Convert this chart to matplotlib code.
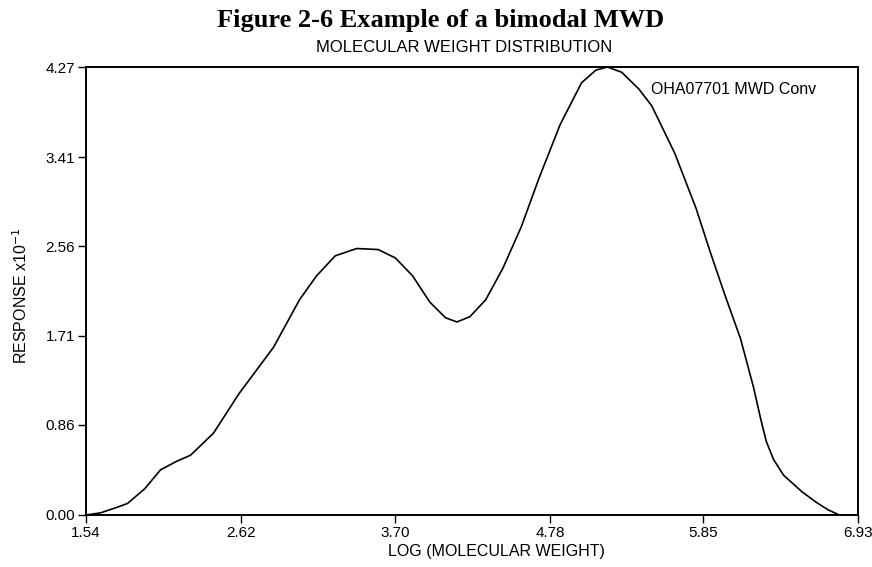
import matplotlib
matplotlib.use("Agg")
import matplotlib.pyplot as plt

# log molecular weight vs response
log_mw = [1.54, 1.64, 1.75, 1.83, 1.95, 2.06, 2.17, 2.27, 2.43, 2.61, 2.85,
          3.03, 3.15, 3.28, 3.43, 3.58, 3.70, 3.82, 3.94, 4.05, 4.13, 4.22,
          4.33, 4.45, 4.58, 4.70, 4.85, 5.00, 5.10, 5.18, 5.28, 5.40, 5.49,
          5.65, 5.80, 5.90, 6.00, 6.11, 6.20, 6.25, 6.29, 6.34, 6.41, 6.54,
          6.64, 6.72, 6.80, 6.93]
response = [0.00, 0.02, 0.07, 0.11, 0.25, 0.43, 0.51, 0.57, 0.78, 1.16, 1.60,
            2.05, 2.28, 2.47, 2.54, 2.53, 2.45, 2.28, 2.03, 1.88, 1.84, 1.89,
            2.05, 2.35, 2.75, 3.20, 3.72, 4.12, 4.24, 4.27, 4.22, 4.06, 3.90,
            3.45, 2.92, 2.50, 2.10, 1.68, 1.22, 0.92, 0.70, 0.53, 0.38, 0.22,
            0.12, 0.05, 0.00, 0.00]

x_ticks = [1.54, 2.62, 3.70, 4.78, 5.85, 6.93]
y_ticks = [0.00, 0.86, 1.71, 2.56, 3.41, 4.27]

sans = ['Liberation Sans Narrow', 'Liberation Sans', 'DejaVu Sans']

fig = plt.figure(figsize=(8.72, 5.67), dpi=100)
ax = fig.add_axes([86 / 872, 52 / 567, 772 / 872, 448 / 567])

ax.plot(log_mw, response, color='black', linewidth=1.2)

ax.set_xlim(x_ticks[0], x_ticks[-1])
ax.set_ylim(y_ticks[0], y_ticks[-1])
ax.set_xticks(x_ticks)
ax.set_yticks(y_ticks)
ax.set_xticklabels(['%.2f' % v for v in x_ticks], family=sans, fontsize=11)
ax.set_yticklabels(['%.2f' % v for v in y_ticks], family=sans, fontsize=11)
ax.tick_params(direction='out', length=6, width=1, colors='black', pad=2)

for s in ax.spines.values():
    s.set_linewidth(1.4)

ax.set_xlabel('LOG (MOLECULAR WEIGHT)', family=sans, fontsize=11.5)
ax.xaxis.set_label_coords(0.532, -0.065)
ax.set_ylabel('RESPONSE x10$^{-1}$', family=sans, fontsize=11.5)
ax.yaxis.set_label_coords(-0.072, 0.49)

ax.text(0.732, 0.95, 'OHA07701 MWD Conv', transform=ax.transAxes,
        family=sans, fontsize=11.5, va='center', ha='left')

fig.text(464 / 872, 1 - 48 / 567, 'MOLECULAR WEIGHT DISTRIBUTION',
         family=sans, fontsize=12, ha='center', va='center')
fig.text(441 / 872, 1 - 20 / 567, 'Figure 2-6 Example of a bimodal MWD',
         family=['Liberation Serif', 'DejaVu Serif'], fontweight='bold',
         fontsize=19, ha='center', va='center')

fig.savefig('out.png', dpi=100)
